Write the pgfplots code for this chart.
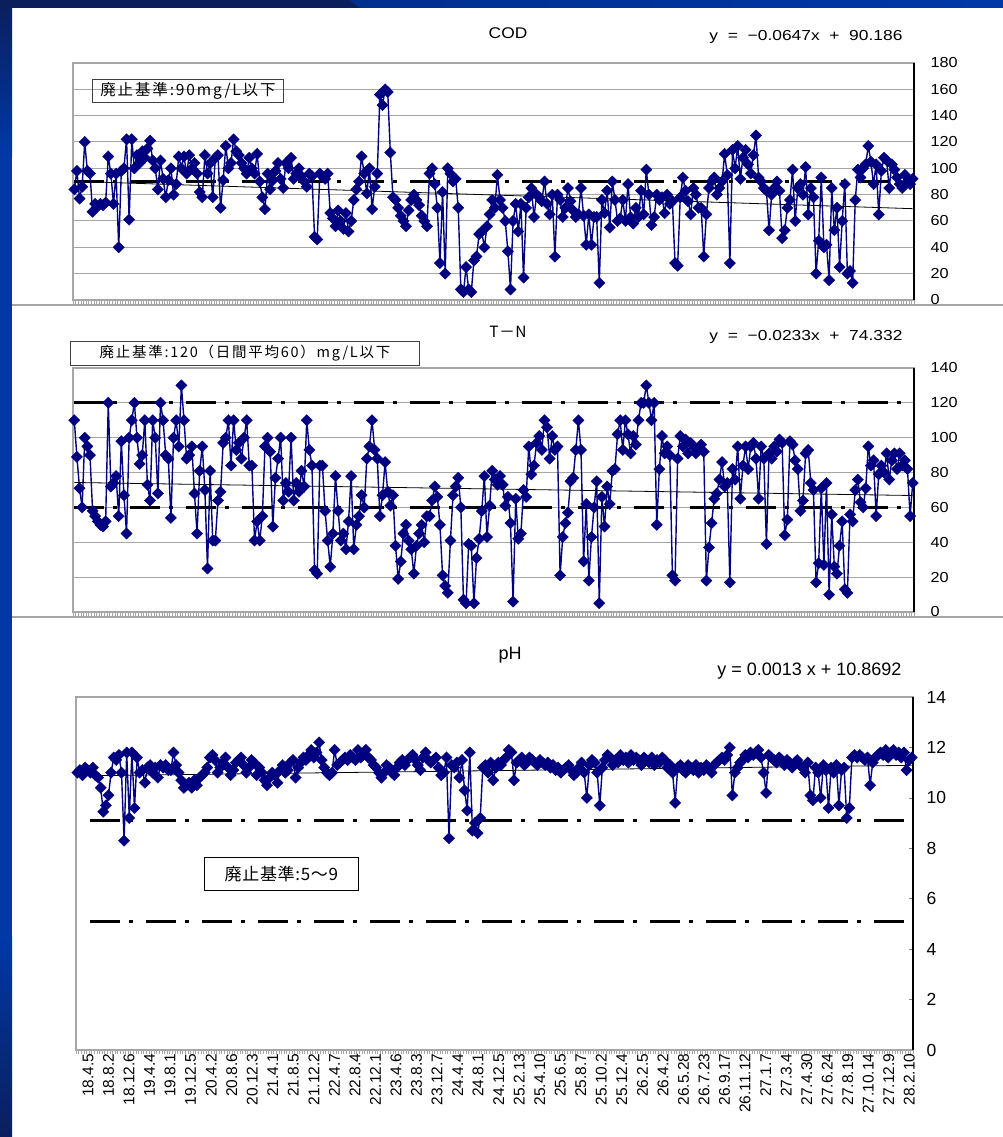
\documentclass[border=0pt]{standalone}
\usepackage{fontspec}
\setmainfont{Liberation Sans}
\newfontfamily\jp[LetterSpace=12]{Noto Sans CJK JP}
\newfontfamily\jpn[LetterSpace=4]{Noto Sans CJK JP}
\newfontfamily\wide[FakeStretch=1.12]{Liberation Sans}
\newfontfamily\eqf[FakeStretch=1.2,WordSpace=2.0]{Liberation Sans}
\usepackage{pgfplots}
\usepackage{pgfplotstable}
\pgfplotsset{compat=1.18}
\definecolor{navy}{HTML}{000080}
\definecolor{bgdark}{HTML}{0B1F5C}
\definecolor{bgblue}{HTML}{0038A8}
\definecolor{gridgray}{HTML}{A6A6A6}

\pgfplotstableread[row sep=\\]{
v\\
84\\98\\77\\86\\120\\98\\96\\67\\73\\71\\
73\\72\\74\\109\\96\\73\\96\\40\\98\\100\\
122\\61\\122\\100\\110\\104\\113\\108\\115\\121\\
106\\100\\84\\106\\92\\78\\91\\100\\80\\88\\
109\\100\\109\\96\\110\\100\\104\\96\\82\\78\\
110\\96\\104\\78\\108\\110\\70\\91\\117\\100\\
104\\122\\113\\110\\104\\100\\96\\108\\100\\96\\
111\\90\\78\\69\\96\\84\\91\\98\\104\\92\\
85\\104\\100\\108\\92\\96\\100\\94\\90\\86\\
96\\94\\48\\46\\96\\94\\92\\96\\66\\62\\
56\\68\\60\\54\\66\\52\\60\\76\\84\\90\\
109\\96\\81\\100\\69\\86\\96\\156\\148\\160\\
158\\112\\78\\76\\70\\64\\60\\56\\68\\76\\
80\\76\\72\\64\\60\\56\\96\\100\\88\\70\\
28\\82\\20\\100\\96\\90\\92\\70\\8\\6\\
25\\8\\6\\30\\33\\50\\52\\40\\56\\65\\
76\\70\\95\\76\\70\\60\\37\\8\\60\\73\\
52\\73\\17\\70\\78\\85\\63\\80\\78\\75\\
90\\73\\65\\80\\33\\80\\76\\63\\70\\85\\
75\\68\\63\\65\\85\\64\\42\\65\\42\\63\\
63\\13\\76\\66\\83\\55\\90\\76\\60\\62\\
76\\60\\88\\63\\58\\70\\63\\83\\65\\99\\
80\\57\\63\\80\\76\\78\\66\\80\\73\\75\\
28\\26\\78\\93\\83\\75\\65\\85\\80\\70\\
70\\33\\65\\85\\90\\93\\80\\85\\90\\111\\
95\\28\\114\\100\\117\\92\\108\\114\\103\\96\\
110\\125\\93\\90\\85\\83\\53\\80\\85\\90\\
83\\47\\53\\70\\76\\99\\60\\85\\88\\80\\
101\\65\\85\\78\\20\\45\\93\\40\\42\\15\\
85\\53\\70\\25\\60\\88\\20\\22\\13\\76\\
99\\93\\100\\103\\117\\105\\88\\103\\65\\98\\
108\\106\\85\\103\\99\\93\\88\\85\\95\\90\\
88\\92\\
}\codtab

\pgfplotstableread[row sep=\\]{
v\\
110\\89\\71\\60\\100\\95\\90\\58\\55\\52\\
50\\49\\52\\120\\72\\74\\78\\55\\98\\67\\
45\\100\\110\\120\\100\\85\\90\\110\\73\\64\\
110\\100\\68\\120\\110\\90\\88\\54\\100\\110\\
95\\130\\110\\88\\90\\95\\68\\45\\81\\95\\
70\\25\\81\\41\\41\\64\\69\\97\\100\\110\\
84\\110\\93\\97\\88\\100\\110\\84\\84\\41\\
52\\41\\55\\95\\100\\92\\49\\77\\88\\100\\
64\\74\\69\\100\\64\\74\\69\\81\\72\\110\\
93\\84\\24\\22\\84\\84\\58\\41\\26\\45\\
78\\58\\41\\45\\36\\52\\78\\36\\50\\55\\
67\\60\\88\\95\\110\\93\\88\\55\\67\\86\\
69\\61\\67\\38\\19\\29\\45\\50\\41\\36\\
22\\38\\45\\50\\40\\55\\55\\64\\72\\66\\
50\\21\\15\\11\\41\\67\\72\\77\\60\\7\\
5\\39\\38\\5\\31\\42\\58\\78\\43\\61\\
81\\76\\73\\78\\73\\61\\66\\51\\6\\65\\
42\\45\\70\\66\\95\\79\\84\\97\\101\\93\\
110\\106\\88\\101\\93\\95\\21\\43\\51\\57\\
75\\77\\93\\110\\93\\29\\62\\18\\43\\60\\
75\\5\\66\\49\\72\\62\\81\\82\\102\\110\\
93\\110\\102\\91\\101\\96\\110\\120\\120\\130\\
120\\110\\120\\50\\82\\101\\91\\95\\90\\21\\
18\\88\\101\\95\\99\\91\\97\\95\\91\\93\\
96\\92\\18\\37\\51\\65\\68\\76\\86\\72\\
74\\17\\82\\76\\95\\65\\84\\95\\82\\95\\
97\\88\\65\\95\\88\\39\\91\\88\\95\\92\\
99\\97\\44\\53\\98\\96\\87\\82\\58\\64\\
91\\93\\74\\70\\17\\28\\71\\27\\74\\10\\
56\\26\\22\\38\\52\\13\\11\\56\\52\\70\\
76\\63\\60\\71\\95\\84\\87\\55\\79\\84\\
80\\91\\76\\87\\91\\82\\91\\84\\87\\82\\
55\\74\\
}\tntab

\pgfplotstableread[row sep=\\]{
v\\
11.0\\11.1\\10.9\\11.2\\11.1\\11.0\\11.2\\10.9\\10.8\\10.4\\
9.45\\9.7\\10.1\\11.0\\11.6\\11.5\\11.7\\11.0\\8.3\\11.8\\
9.2\\11.8\\9.6\\11.6\\11.0\\11.1\\10.6\\11.2\\11.3\\11.0\\
11.2\\10.8\\11.3\\11.2\\11.3\\11.1\\11.1\\11.8\\11.3\\11.0\\
10.7\\10.4\\10.5\\10.6\\10.4\\10.7\\10.5\\10.8\\10.9\\11.0\\
11.2\\11.6\\11.7\\11.5\\11.0\\11.2\\11.4\\11.6\\11.2\\10.9\\
11.1\\11.4\\11.5\\11.6\\11.3\\11.0\\11.2\\11.5\\11.4\\10.9\\
11.2\\11.0\\10.7\\10.5\\10.8\\11.0\\10.9\\10.6\\11.1\\11.3\\
11.0\\11.1\\11.4\\11.5\\10.8\\11.2\\11.4\\11.6\\11.5\\11.7\\
11.9\\11.6\\11.8\\12.2\\11.5\\11.2\\11.0\\10.9\\11.0\\11.9\\
11.3\\11.4\\11.5\\11.6\\11.5\\11.7\\11.6\\11.5\\11.9\\11.6\\
11.7\\11.9\\11.6\\11.5\\11.3\\11.2\\11.0\\10.8\\11.0\\11.3\\
11.2\\11.0\\10.9\\11.2\\11.4\\11.5\\11.3\\11.5\\11.6\\11.7\\
11.5\\11.3\\11.1\\11.6\\11.8\\11.5\\11.4\\11.5\\11.6\\11.2\\
10.9\\11.0\\11.6\\8.4\\11.3\\11.2\\11.4\\10.8\\11.5\\10.3\\
9.5\\11.8\\8.7\\9.0\\8.6\\9.2\\11.2\\11.3\\11.0\\11.4\\
10.7\\11.2\\11.4\\11.3\\11.5\\11.6\\11.9\\11.8\\10.7\\11.4\\
11.5\\11.6\\11.3\\11.4\\11.6\\11.5\\11.4\\11.3\\11.5\\11.4\\
11.3\\11.4\\11.2\\11.3\\11.1\\11.2\\11.0\\11.1\\11.2\\11.3\\
11.1\\10.9\\11.0\\11.2\\11.4\\11.0\\10.0\\11.3\\11.5\\11.4\\
11.0\\9.7\\11.2\\11.5\\11.7\\11.6\\11.3\\11.5\\11.4\\11.7\\
11.5\\11.6\\11.4\\11.7\\11.5\\11.6\\11.5\\11.3\\11.6\\11.5\\
11.4\\11.6\\11.3\\11.5\\11.4\\11.6\\11.5\\11.2\\11.3\\11.0\\
9.8\\11.2\\11.3\\11.1\\11.0\\11.3\\11.2\\11.1\\11.3\\11.0\\
11.2\\11.1\\11.3\\11.2\\11.0\\11.3\\11.4\\11.5\\11.6\\11.5\\
11.7\\12.0\\10.1\\11.0\\11.2\\11.4\\11.5\\11.7\\11.6\\11.8\\
11.7\\11.8\\11.9\\11.6\\11.0\\10.2\\11.7\\11.6\\11.5\\11.4\\
11.6\\11.5\\11.3\\11.5\\11.4\\11.2\\11.4\\11.5\\11.3\\11.2\\
11.0\\11.4\\10.1\\9.9\\11.2\\11.0\\10.0\\11.3\\11.1\\9.6\\
11.2\\11.0\\11.3\\9.7\\11.1\\11.2\\9.2\\9.6\\11.6\\11.7\\
11.6\\11.7\\11.6\\11.5\\11.6\\10.5\\11.4\\11.6\\11.7\\11.8\\
11.7\\11.9\\11.6\\11.8\\11.9\\11.7\\11.8\\11.6\\11.8\\11.1\\
11.5\\11.6\\
}\phtab

\pgfplotsset{
  panel/.style={
    scale only axis, width=841pt,
    xmin=0.5, xmax=322.5,
    axis line style={gridgray, line width=1.3pt},
    ytick pos=right, yticklabel pos=right,
    xtick pos=bottom,
    xtick={0.5,1.5,...,322.5},
    xticklabels={},
    major tick length=4pt,
    tick align=outside,
    x tick style={gridgray, line width=0.5pt},
    /pgf/number format/assume math mode=true,
    clip=false,
  },
  series/.style={navy, line width=1.4pt, mark=square*, mark size=4pt,
    mark options={rotate=45, fill=navy, draw=navy, line width=0.3pt, solid}},
  ref/.style={black, line width=3pt, dash pattern=on 30pt off 9pt on 4pt off 13pt, no marks},
  trend/.style={black, line width=0.8pt, no marks},
}

\begin{document}
\begin{tikzpicture}[x=1pt,y=1pt]
\useasboundingbox (0,0) rectangle (1003,1137);
\fill[white] (0,0) rectangle (1003,1137);
% background decorations
\shade[top color=bgdark, bottom color=bgblue] (0,980) rectangle (12,1137);
\fill[bgblue] (0,200) rectangle (12,980.5);
\shade[top color=bgblue, bottom color=bgdark] (0,0) rectangle (12,200.5);
\fill[bgdark] (0,1129) rectangle (362,1137);
\shade[left color=bgblue!85!black, right color=bgblue] (350,1137) -- (1003,1137) -- (1003,1129) -- (360,1129) -- cycle;
% panel separators
\draw[gridgray, line width=1.5pt] (12,832) -- (1003,832);
\draw[gridgray, line width=1.5pt] (12,520) -- (1003,520);

% ---------------- COD ----------------
\begin{axis}[panel, at={(73pt,837pt)}, anchor=south west, height=237pt,
  ymin=0, ymax=180, ytick={0,20,...,180},
  ymajorgrids, grid style={gridgray, line width=1pt},
  y tick style={draw=none},
  yticklabel style={font=\wide\fontsize{14.5}{14.5}\selectfont, anchor=west, xshift=9pt}]
\addplot[ref] coordinates {(1,90) (322,90)};
\addplot[series] table[x expr=\coordindex+1, y=v] {\codtab};
\addplot[trend] coordinates {(1,90.12) (322,69.35)};
\draw[black, line width=1.5pt] (rel axis cs:1,0) -- (rel axis cs:1,1);
\end{axis}
\node[font=\wide\fontsize{15.5}{15.5}\selectfont] at (508,1104) {COD};
\node[anchor=east, font=\eqf\fontsize{14.5}{15}\selectfont] at (906,1100) {y = −0.0647x + 90.186};
\node[draw=black!75, line width=0.9pt, anchor=north west, minimum width=191pt, minimum height=23pt, inner sep=0pt,
  font=\jp\fontsize{15.5}{15.5}\selectfont] at (92,1058) {廃止基準:90mg/L以下};

% ---------------- T-N ----------------
\begin{axis}[panel, at={(73pt,525pt)}, anchor=south west, height=244pt,
  ymin=0, ymax=140, ytick={0,20,...,140},
  ymajorgrids, grid style={gridgray, line width=1pt},
  y tick style={draw=none},
  yticklabel style={font=\wide\fontsize{14.5}{14.5}\selectfont, anchor=west, xshift=9pt}]
\addplot[ref] coordinates {(1,120) (319,120)};
\addplot[ref] coordinates {(1,60) (319,60)};
\addplot[series] table[x expr=\coordindex+1, y=v] {\tntab};
\addplot[trend] coordinates {(1,74.31) (322,66.83)};
\draw[black, line width=1.5pt] (rel axis cs:1,0) -- (rel axis cs:1,1);
\end{axis}
\node[font=\jpn\fontsize{15.5}{15.5}\selectfont] at (508,805) {T－N};
\node[anchor=east, font=\eqf\fontsize{14.5}{15}\selectfont] at (906,800) {y = −0.0233x + 74.332};
\node[draw=black!75, line width=0.9pt, anchor=north west, minimum width=349pt, minimum height=24pt, inner sep=0pt,
  font=\jp\fontsize{14.5}{15}\selectfont] at (70,796) {廃止基準:120（日間平均60）mg/L以下};

% ---------------- pH ----------------
\begin{axis}[panel, at={(76pt,87pt)}, anchor=south west, width=837pt, height=353pt,
  ymin=0, ymax=14, ytick={0,2,...,14},
  y tick style={gray, line width=0.6pt}, ytick align=inside,
  yticklabel style={font=\fontsize{17.5}{18}\selectfont, anchor=west, xshift=10pt},
  extra x ticks={2.8,10.7,...,318.8},
  extra x tick labels={18.4.5,18.8.2,18.12.6,19.4.4,19.8.1,19.12.5,20.4.2,20.8.6,20.12.3,21.4.1,21.8.5,21.12.2,22.4.7,22.8.4,22.12.1,23.4.6,23.8.3,23.12.7,24.4.4,24.8.1,24.12.5,25.2.13,25.4.10,25.6.5,25.8.7,25.10.2,25.12.4,26.2.5,26.4.2,26.5.28,26.7.23,26.9.17,26.11.12,27.1.7,27.3.4,27.4.30,27.6.24,27.8.19,27.10.14,27.12.9,28.2.10},
  extra x tick style={major tick length=0pt, xticklabel style={rotate=90, anchor=east, font=\fontsize{15.5}{15.5}\selectfont, yshift=-6pt}}]
\addplot[ref] coordinates {(6,9.1) (319,9.1)};
\addplot[ref] coordinates {(6,5.1) (319,5.1)};
\addplot[series] table[x expr=\coordindex+1, y=v] {\phtab};
\addplot[trend] coordinates {(1,10.87) (322,11.29)};
\draw[black, line width=1.5pt] (rel axis cs:1,0) -- (rel axis cs:1,1);
\end{axis}
\node[font=\fontsize{18}{18}\selectfont] at (510,482) {pH};
\node[anchor=east, font=\fontsize{18}{18}\selectfont] at (905,466) {y = 0.0013 x + 10.8692};
\node[draw=black, line width=0.8pt, anchor=north west, minimum width=154pt, minimum height=33pt, inner sep=0pt,
  font=\jpn\fontsize{17}{17}\selectfont] at (204,280) {廃止基準:5～9};
\end{tikzpicture}
\end{document}
